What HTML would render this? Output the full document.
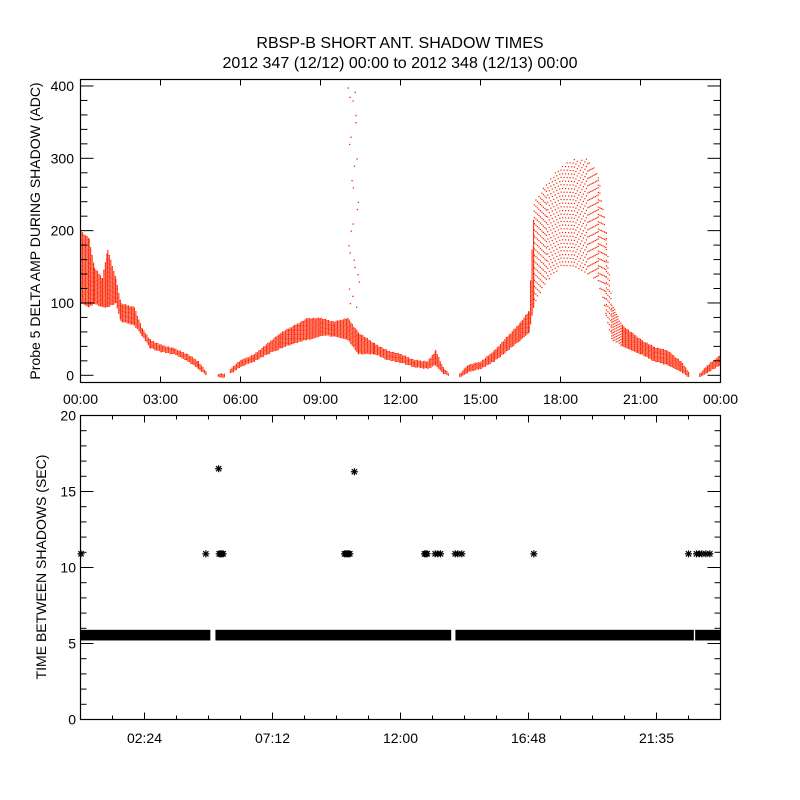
<!DOCTYPE html>
<html><head><meta charset="utf-8"><style>
html,body{margin:0;padding:0;background:#fff}
svg{display:block}
text{font-family:"Liberation Sans",sans-serif;fill:#000}
</style></head><body>
<svg id="c" width="800" height="800" viewBox="0 0 800 800">
<text x="400" y="48" font-size="16" text-anchor="middle">RBSP-B SHORT ANT. SHADOW TIMES</text>
<text x="400" y="68" font-size="16" text-anchor="middle">2012 347 (12/12) 00:00 to 2012 348 (12/13) 00:00</text>
<text transform="translate(40,231) rotate(-90)" font-size="14" text-anchor="middle">Probe 5 DELTA AMP DURING SHADOW (ADC)</text>
<text transform="translate(46,567) rotate(-90)" font-size="14" text-anchor="middle">TIME BETWEEN SHADOWS (SEC)</text>
</svg>
<script>
// ---- top panel data (hours, envelope lo/hi, dot density) ----
const envT  = [0,0.3,0.5,0.8,1.0,1.3,1.5,2.0,2.3,2.6,3.0,3.5,4.0,4.4,4.7,null,5.15,5.4,null,5.6,6.0,6.5,7.0,7.5,8.0,8.5,9.0,9.5,10.0,10.4,11.0,11.5,12.0,12.5,13.0,13.3,13.6,13.8,null,14.2,14.5,15.0,15.5,16.0,16.5,16.8,17.0,17.5,18.0,18.5,19.0,19.4,19.7,19.9,20.3,21.0,21.5,22.0,22.5,22.8,null,23.2,23.5,24.0];
const envLo = [100,95,100,95,95,100,75,70,55,38,33,30,20,10,0,null,-2,-2,null,3,13,20,30,38,45,50,55,55,50,30,30,22,18,12,10,15,3,0,null,-2,5,10,20,35,50,60,100,130,150,150,140,130,80,50,40,30,20,15,5,-2,null,-2,5,15];
const envHi = [200,190,150,135,175,135,100,95,65,50,43,38,30,20,5,null,3,3,null,10,22,30,45,60,70,80,80,75,80,60,45,35,30,22,20,35,10,3,null,3,15,20,35,55,75,90,240,270,290,300,300,280,200,100,70,50,40,35,20,5,null,3,15,30];
const envDen= [1,1,1,1,1,1,1,1,1,1,1,1,1,1,1,null,1,1,null,1,1,1,1,1,1,1,1,1,1,1,1,1,1,1,1,1,1,1,null,1,1,1,1,1,1,1,0.35,0.3,0.3,0.3,0.3,0.3,0.4,0.8,1,1,1,1,1,1,null,1,1,1];
const spikeT = [10.02,10.08,10.3,10.12,10.35,10.16,10.4,10.2,10.05,10.24,10.38,10.06,10.1,10.33,10.19,10.43,10.27,10.09,10.13,10.36,10.21,10.25,10.07,10.31,10.2,10.28];
const spikeV = [398,385,360,330,300,270,240,210,180,160,140,120,100,95,110,130,150,170,200,230,260,290,320,350,380,392];
// ---- bottom panel data ----
const bandSegStart = [0,5.06,14.06,23.05];
const bandSegEnd   = [4.87,13.9,23.0,24];
const bandLo = 5.2, bandHi = 5.9;
const starT = [0.02,4.7,5.2,5.25,5.3,5.35,9.9,9.95,10.0,10.05,10.1,12.9,12.95,13.0,13.3,13.4,13.5,14.05,14.15,14.3,17.0,22.8,23.1,23.2,23.3,23.45,23.6,5.18,10.27];
const starV = [10.9,10.9,10.9,10.9,10.9,10.9,10.9,10.9,10.9,10.9,10.9,10.9,10.9,10.9,10.9,10.9,10.9,10.9,10.9,10.9,10.9,10.9,10.9,10.9,10.9,10.9,10.9,16.5,16.3];
const topYTicks = [0,100,200,300,400];
const topXLabels = ["00:00","03:00","06:00","09:00","12:00","15:00","18:00","21:00","00:00"];
const botYTicks = [0,5,10,15,20];
const botXLabels = ["02:24","07:12","12:00","16:48","21:35"];

const NS="http://www.w3.org/2000/svg", svg=document.getElementById('c');
function mk(t,a,p){const e=document.createElementNS(NS,t);for(const k in a)e.setAttribute(k,a[k]);(p||svg).appendChild(e);return e;}
const L=80.5,R=720.5;
const xs=h=>L+(R-L)*h/24;
const T1=79.5,B1=382.5, y1=v=>375.3-v*0.7233;
const T2=415.5,B2=719.5, y2=v=>B2-(B2-T2)*v/20;

// top dots
const gTop=mk('g',{fill:'#ff2200'});


let col=0;
for(let i=0;i<envT.length-1;i++){
  if(envT[i]===null||envT[i+1]===null)continue;
  const x0=xs(envT[i]),x1=xs(envT[i+1]);
  for(let x=x0;x<x1;x+=1.5){
    col++;
    const f=(x-x0)/(x1-x0);
    const lo=envLo[i]+(envLo[i+1]-envLo[i])*f, hi=envHi[i]+(envHi[i+1]-envHi[i])*f;
    const d=envDen[i], ya=y1(hi), yb=y1(lo);
    const step=d>=1?1.3:(2.2/d);
    const off=((col*0.618034)%1)*step;
    for(let y=ya+off;y<=yb;y+=step){
      const r=mk('rect',{x:x.toFixed(1),y:y.toFixed(1),width:1.2,height:1.2},gTop);
      
      
    }
  }
}
for(let i=0;i<spikeT.length;i++){
  const r=mk('rect',{x:xs(spikeT[i]).toFixed(1),y:y1(spikeV[i]).toFixed(1),width:1.3,height:1.3},gTop);
  
  
}

// axes frames
function frame(T,B,name){const r=mk('rect',{x:L,y:T,width:R-L,height:B-T,fill:'none',stroke:'#000','stroke-width':1.2});
}
frame(T1,B1,'top-plot-frame');frame(T2,B2,'bottom-plot-frame');
const tk=mk('g',{stroke:'#000','stroke-width':1});
for(let v=0;v<=400;v+=20){const len=v%100===0?13:7;const y=y1(v);
  mk('line',{x1:L,y1:y,x2:L+len,y2:y},tk);mk('line',{x1:R,y1:y,x2:R-len,y2:y},tk);}
topYTicks.forEach(v=>{const t=mk('text',{x:74,y:y1(v)+5,'font-size':14,'text-anchor':'end'});t.textContent=v;
  });
topXLabels.forEach((s,i)=>{const x=xs(i*3);
  mk('line',{x1:x,y1:B1,x2:x,y2:B1-6},tk);mk('line',{x1:x,y1:T1,x2:x,y2:T1+6},tk);
  const t=mk('text',{x:x,y:404,'font-size':14,'text-anchor':'middle'});t.textContent=s;
  });
for(let v=0;v<=20;v++){const len=v%5===0?13:6;const y=y2(v);
  mk('line',{x1:L,y1:y,x2:L+len,y2:y},tk);mk('line',{x1:R,y1:y,x2:R-len,y2:y},tk);}
botYTicks.forEach(v=>{const t=mk('text',{x:76,y:y2(v)+5,'font-size':14,'text-anchor':'end'});t.textContent=v;
  });
for(let i=1;i<20;i++){const x=xs(i*1.2);const len=i%4===2?7:4;
  mk('line',{x1:x,y1:B2,x2:x,y2:B2-len},tk);mk('line',{x1:x,y1:T2,x2:x,y2:T2+len},tk);}
botXLabels.forEach((s,i)=>{const x=xs(2.4+i*4.8);
  const t=mk('text',{x:x,y:743,'font-size':14,'text-anchor':'middle'});t.textContent=s;
  });

for(let i=0;i<bandSegStart.length;i++){
  const r=mk('rect',{x:xs(bandSegStart[i]),y:y2(bandHi),width:xs(bandSegEnd[i])-xs(bandSegStart[i]),height:y2(bandLo)-y2(bandHi),fill:'#000'});
  
  
}
for(let i=0;i<starT.length;i++){
  const x=xs(starT[i]),y=y2(starV[i]),s=3.5;
  const g=mk('g',{stroke:'#000','stroke-width':1.2});
  
  
  mk('line',{x1:x-s,y1:y,x2:x+s,y2:y},g);mk('line',{x1:x,y1:y-s,x2:x,y2:y+s},g);
  mk('line',{x1:x-s*0.75,y1:y-s*0.75,x2:x+s*0.75,y2:y+s*0.75},g);mk('line',{x1:x-s*0.75,y1:y+s*0.75,x2:x+s*0.75,y2:y-s*0.75},g);
}
</script>
</body></html>
